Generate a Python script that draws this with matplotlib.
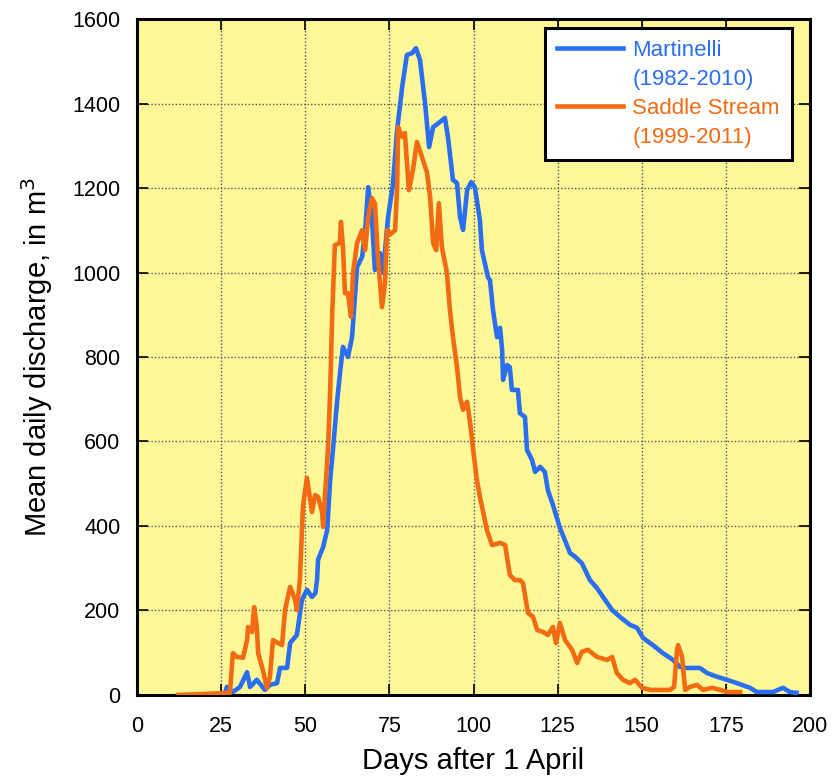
import matplotlib.pyplot as plt
from matplotlib.lines import Line2D

plt.rcParams['font.family'] = ['Liberation Sans', 'DejaVu Sans']

# Martinelli (1982-2010)
mart_day = [26, 26.7, 28.5, 30.6, 32.7, 33.6, 35.6, 38, 39.5, 41.6, 42.5, 44.6,
            45.5, 47.5, 49, 50.5, 52, 53, 53.5, 53.8, 55.3, 56.5, 57.4, 58.3, 59.4,
            60.3, 61.2, 62.7, 63.9, 65.4, 66.9, 67.8, 68.7, 69.8, 70.7, 72.2, 73.1,
            74.6, 76, 77.3, 78.8, 80.2, 81.7, 82.9, 84.1, 85.6, 86.8, 88, 90, 91.5,
            92.4, 93.9, 95.1, 96, 96.9, 98.1, 99.3, 100.4, 101.9, 102.5, 104.3, 104.9,
            105.8, 107, 107.9, 108.5, 108.8, 110, 110.8, 111.4, 113.2, 113.8, 115.3,
            115.9, 117.4, 118.3, 119.8, 121.2, 122.1, 123.6, 125.7, 128.7, 130.2,
            132.2, 134.6, 136.7, 138.5, 141.2, 143.5, 146.5, 148.6, 150.4, 153.3,
            156.3, 159.3, 161.4, 163.4, 167.3, 169.4, 172.4, 175.3, 178.3, 182.2,
            184.2, 189, 192, 194, 196]
mart_q = [0, 19, 7, 19, 54, 19, 36, 12, 24, 28, 64, 64,
          123, 142, 225, 249, 232, 241, 272, 320, 350, 390, 509, 587, 690,
          760, 824, 800, 847, 1013, 1037, 1100, 1202, 1131, 1006, 1046, 999,
          1131, 1205, 1337, 1439, 1515, 1519, 1531, 1503, 1401, 1297, 1344, 1356, 1366,
          1321, 1219, 1212, 1131, 1101, 1195, 1214, 1202, 1124, 1053, 989, 982,
          911, 847, 869, 817, 746, 781, 776, 722, 722, 667, 658,
          580, 556, 528, 540, 528, 485, 450, 395, 336, 327,
          312, 272, 253, 232, 201, 185, 166, 159, 135, 118,
          99, 83, 66, 64, 64, 52, 43, 36, 28, 17,
          7, 7, 17, 7, 5]

# Saddle Stream (1999-2011)
sad_day = [12.2, 27.6, 28.5, 29.7, 31.5, 32.7, 33, 34.2, 34.8, 35.6, 36, 37.4, 38.6,
           39.5, 40.4, 41.9, 43.1, 44, 45.5, 47, 47.5, 48.4, 49.3, 50.5, 52, 52.9,
           53.8, 55, 55.3, 55.9, 56.8, 57.4, 58, 58.8, 60.3, 60.6, 61.2, 61.8, 62.7,
           63.6, 64.2, 65.4, 66.9, 67.8, 68.7, 69.8, 70.7, 71.6, 72.8, 73.7, 74.3,
           75.2, 76.7, 77.3, 77.6, 78.8, 79.6, 80.8, 82, 83.2, 84.7, 86.2, 87.1, 88,
           88.9, 89.7, 90.6, 92.1, 93, 93.9, 95.1, 96, 96.9, 98.1, 99, 99.9, 101,
           101.9, 104, 105.5, 107.9, 109.4, 110.8, 112.3, 113.8, 114.7, 116.2, 117.7,
           118.9, 120.7, 122.1, 123.6, 124.5, 125.7, 127.2, 129.3, 130.8, 132.2, 134,
           136.7, 139.7, 141.2, 142.6, 144.4, 146.5, 148, 150.1, 152.5, 158.4, 159.6,
           160.5, 160.8, 162, 162.9, 164.3, 166.4, 168.2, 170.9, 173.3, 175.3, 179.2]
sad_q = [0, 5, 99, 90, 88, 130, 161, 149, 208, 161, 99, 59, 17,
         43, 130, 123, 118, 201, 256, 225, 201, 272, 445, 514, 433, 473,
         469, 433, 398, 478, 587, 720, 900, 1065, 1070, 1120, 1060, 951, 951,
         895, 999, 1070, 1100, 1053, 1131, 1176, 1164, 1037, 918, 975, 1100,
         1090, 1100, 1202, 1344, 1321, 1330, 1195, 1243, 1309, 1273, 1236, 1179, 1070,
         1053, 1164, 1060, 1000, 911, 847, 776, 705, 675, 694, 644, 580, 509,
         469, 390, 355, 360, 355, 284, 272, 272, 265, 194, 185,
         154, 149, 142, 161, 123, 170, 130, 107, 76, 102, 107,
         90, 83, 90, 52, 36, 28, 36, 17, 12, 12, 19,
         107, 118, 90, 12, 19, 24, 12, 17, 12, 7, 7]

blue = '#2A6EF2'
orange = '#F26A12'

fig = plt.figure(figsize=(8.34, 7.8), dpi=100)
ax = fig.add_axes([0.1643, 0.109, 0.8069, 0.8666])
ax.set_facecolor('#FFF899')

ax.plot(mart_day, mart_q, color=blue, lw=3.3, zorder=3)
ax.plot(sad_day, sad_q, color=orange, lw=3.3, zorder=3)

ax.set_xlim(0, 200)
ax.set_ylim(0, 1600)
ax.set_xticks(range(0, 201, 25))
ax.set_yticks(range(0, 1601, 200))
ax.grid(True, color='#555555', linestyle=(0, (1, 1.5)), linewidth=1)
ax.tick_params(direction='in', length=8, width=1.2, top=True, right=True, labelsize=15.5)
ax.tick_params(axis='x', pad=15)
ax.tick_params(axis='y', pad=12)
for s in ax.spines.values():
    s.set_linewidth(2.2)

ax.set_xlabel('Days after 1 April', fontsize=21, labelpad=7)
ax.set_ylabel('Mean daily discharge, in m$^3$', fontsize=21, labelpad=12)

# legend: two text rows per series, line handle next to the first row
handles = [Line2D([], [], color=blue, lw=3.3), Line2D([], [], color='none'),
           Line2D([], [], color=orange, lw=3.3), Line2D([], [], color='none')]
labels = ['Martinelli', '(1982-2010)', 'Saddle Stream', '(1999-2011)']
leg = ax.legend(handles, labels, loc='upper right', bbox_to_anchor=(0.9733, 0.9867),
                borderaxespad=0, fontsize=16, handlelength=3.0, handletextpad=0.4,
                frameon=True, fancybox=False, edgecolor='black', framealpha=1,
                borderpad=0.55, labelspacing=0.35)
leg.get_frame().set_linewidth(2.2)
for txt, c in zip(leg.get_texts(), [blue, blue, orange, orange]):
    txt.set_color(c)

fig.savefig('out.png', dpi=100)
